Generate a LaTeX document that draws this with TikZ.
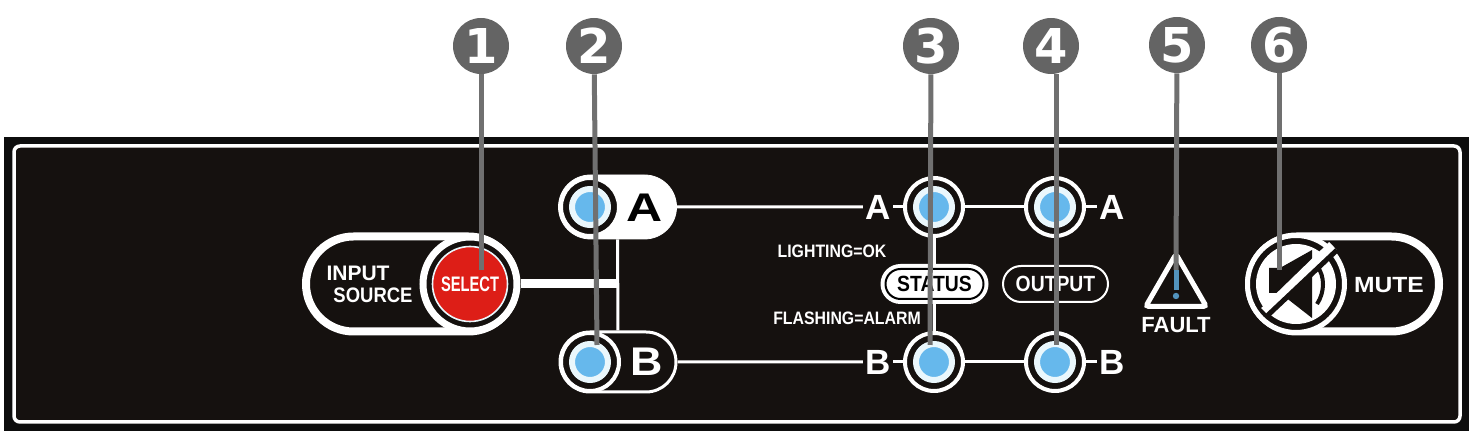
\documentclass[tikz,border=0pt]{standalone}
\usepackage{fontspec}
\usepackage{tikz}
\usetikzlibrary{shapes.geometric,shapes.misc}
\setmainfont{Liberation Sans}
\newfontfamily\digitfont{DejaVu Sans}
\newfontfamily\narrowfont[FakeStretch=0.7]{Liberation Sans}
\newfontfamily\tightfont[FakeStretch=0.88]{Liberation Sans}
\newfontfamily\broadfont[FakeStretch=1.12]{Liberation Sans}
\newfontfamily\widefont[FakeStretch=1.25]{Liberation Sans}
\definecolor{cpanel}{HTML}{15110F}
\definecolor{cled}{HTML}{66B8EC}
\definecolor{cring}{HTML}{EAF7FC}
\definecolor{ccall}{HTML}{707070}
\definecolor{cbadge}{HTML}{646464}
\definecolor{cred}{HTML}{DD1E17}

\begin{document}
\begin{tikzpicture}[x=0.5pt,y=-0.5pt,
    ledout/.style={circle,draw=white,fill=cpanel,line width=2pt,minimum size=29pt,inner sep=0pt},
    ledin/.style={circle,draw=cring,fill=cled,line width=3pt,minimum size=18pt,inner sep=0pt},
    pill/.style={rounded rectangle,draw=white,fill=cpanel,inner sep=0pt},
    badge/.style={circle,fill=cbadge,minimum size=28pt,inner sep=0pt,text=white,font=\digitfont\bfseries\fontsize{24}{24}\selectfont},
    callout/.style={draw=ccall,line width=2.5pt},
    wire/.style={draw=white,line width=1.5pt},
    lbl/.style={text=white,inner sep=1pt,font=\bfseries\fontsize{17.5}{17.5}\selectfont}]
    \useasboundingbox (0,0) rectangle (1474,437);
    % panel
    \node[draw=none,fill=black!95,minimum width=732.5pt,minimum height=147pt,inner sep=0pt] (panel) at (736.5,284) {};
    \node[draw=white,fill=cpanel,line width=1.75pt,rounded corners=3pt,minimum width=723pt,minimum height=138pt,inner sep=0pt] (frame) at (737,284) {};
    % input source
    \node[pill,line width=4pt,minimum width=105pt,minimum height=47.5pt] (input) at (411,284) {};
    \node[text=white,inner sep=0pt,font=\bfseries\fontsize{10.5}{10.5}\selectfont] (inputt) at (358,273) {INPUT};
    \node[text=white,inner sep=0pt,font=\tightfont\bfseries\fontsize{10.5}{10.5}\selectfont] (source) at (373,295) {SOURCE};
    \node[circle,draw=white,fill=cpanel,line width=3.5pt,minimum size=47pt,inner sep=0pt] (selring) at (470,284) {};
    \node[circle,draw=cring,fill=cred,line width=0.8pt,minimum size=37.5pt,inner sep=0pt,text=white,font=\narrowfont\bfseries\fontsize{10.5}{10.5}\selectfont] (sel) at (470,284) {SELECT};
    % source A and B
    \coordinate (jct) at (618,284);
    \node[pill,fill=white,minimum width=59pt,minimum height=32pt] (pilla) at (617.5,207) {};
    \node[pill,line width=1.5pt,minimum width=58pt,minimum height=30pt] (pillb) at (618,362) {};
    \draw[wire] (pilla) -- (pillb);
    \draw[draw=white,line width=4.5pt] (selring) -- (jct);
    \node[ledout] (leda) at (590,207) {};
    \node[ledin] (ledai) at (590,207) {};
    \node[ledout] (ledb) at (590,362) {};
    \node[ledin] (ledbi) at (590,362) {};
    \node[text=black,inner sep=0pt,font=\widefont\bfseries\fontsize{20}{20}\selectfont] (namea) at (645,208) {A};
    \node[text=white,inner sep=0pt,font=\broadfont\bfseries\fontsize{20}{20}\selectfont] (nameb) at (647,362) {B};
    % status and output
    \node[ledout] (sta) at (934,207) {};
    \node[ledin] (stai) at (934,207) {};
    \node[ledout] (stb) at (934,362) {};
    \node[ledin] (stbi) at (934,362) {};
    \node[ledout] (outa) at (1055,207) {};
    \node[ledin] (outai) at (1055,207) {};
    \node[ledout] (outb) at (1055,362) {};
    \node[ledin] (outbi) at (1055,362) {};
    \node[lbl] (la1) at (878,207) {A};
    \node[lbl] (lb1) at (878,362) {B};
    \node[lbl] (la2) at (1112,207) {A};
    \node[lbl] (lb2) at (1112,362) {B};
    \draw[wire] (pilla) -- (la1); \draw[wire] (la1) -- (sta);
    \draw[wire] (sta) -- (outa); \draw[wire] (outa) -- (la2);
    \draw[wire] (pillb) -- (lb1); \draw[wire] (lb1) -- (stb);
    \draw[wire] (stb) -- (outb); \draw[wire] (outb) -- (lb2);
    \draw[wire] (sta) -- (stb);
    \node[rounded rectangle,draw=white,fill=white,line width=1pt,minimum width=53pt,minimum height=19pt,inner sep=0pt] (statusr) at (934.5,284) {};
    \node[rounded rectangle,draw=black,fill=white,line width=1pt,minimum width=49pt,minimum height=15pt,inner sep=0pt,text=black,font=\tightfont\bfseries\fontsize{11}{11}\selectfont] (status) at (934.5,284) {STATUS};
    \node[pill,line width=1pt,minimum width=52.5pt,minimum height=18pt,text=white,font=\tightfont\bfseries\fontsize{11}{11}\selectfont] (output) at (1055.5,284) {OUTPUT};
    \node[text=white,inner sep=0pt,font=\tightfont\bfseries\fontsize{9}{9}\selectfont] (lighting) at (832,251) {LIGHTING=OK};
    \node[text=white,inner sep=0pt,font=\tightfont\bfseries\fontsize{9}{9}\selectfont] (flashing) at (847,318) {FLASHING=ALARM};
    % fault
    \node[regular polygon,regular polygon sides=3,draw=white,line width=2.5pt,rounded corners=1.5pt,minimum size=35pt,inner sep=0pt] (tri) at (1176,289) {};
    \node[text=white,inner sep=0pt,font=\bfseries\fontsize{11}{11}\selectfont] (fault) at (1176,325) {FAULT};
    \draw[draw=cled!80!black,line width=2.5pt] (1176,270) -- (1176,290);
    \fill[cled!80!black] (1176,296) circle (1.6pt);
    % mute
    \node[pill,line width=4pt,minimum width=95pt,minimum height=47.5pt] (mute) at (1344,284) {};
    \node[circle,draw=white,fill=cpanel,line width=2.5pt,minimum size=48.5pt,inner sep=0pt] (mutering) at (1296,284) {};
    \node[circle,fill=white,minimum size=40pt,inner sep=0pt] (mutedisc) at (1296,284) {};
    \node[text=white,inner sep=0pt,font=\broadfont\bfseries\fontsize{11}{11}\selectfont] (mutet) at (1389,285) {MUTE};
    \fill[cpanel] (1269,268) -- (1280,268) -- (1312,250) -- (1312,318) -- (1280,293) -- (1269,293) -- cycle;
    \draw[cpanel,line width=2pt] (1317,266) .. controls (1325,276) and (1325,292) .. (1317,304);
    \draw[white,line width=5.5pt] (1333,246) -- (1265,312);
    \draw[cpanel,line width=2.5pt] (1337,250) -- (1267,316);
    % numbers
    \node[badge] (n1) at (481,46) {1};
    \node[badge] (n2) at (594,46) {2};
    \node[badge] (n3) at (931,46) {3};
    \node[badge] (n4) at (1051,46) {4};
    \node[badge] (n5) at (1177,45) {5};
    \node[badge] (n6) at (1279,45) {6};
    \coordinate (e1) at (481,270);
    \coordinate (e2) at (597,345);
    \coordinate (e3) at (930,345);
    \coordinate (e4) at (1056,345);
    \coordinate (e5) at (1176,270);
    \coordinate (e6) at (1279,270);
    \draw[callout] (n1) -- (e1); \draw[callout] (n2) -- (e2);
    \draw[callout] (n3) -- (e3); \draw[callout] (n4.south -| e4) -- (e4);
    \draw[callout] (n5) -- (e5); \draw[callout] (n6) -- (e6);
\end{tikzpicture}
\end{document}
